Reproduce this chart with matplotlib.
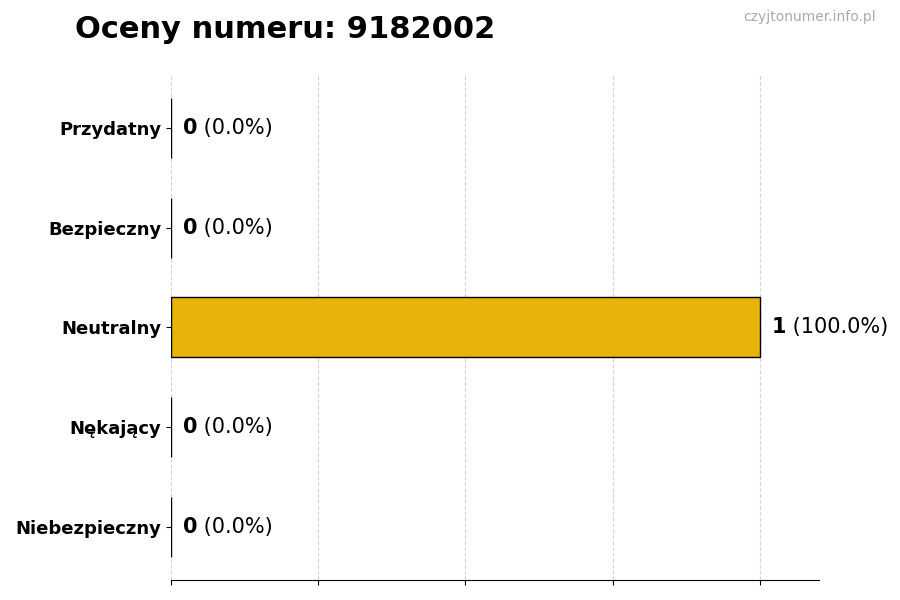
import numpy as np
import matplotlib
matplotlib.use("Agg")
import matplotlib.pyplot as plt

TITLE = "Oceny numeru: 9182002"
WATERMARK = "czyjtonumer.info.pl"
CATEGORIES = ["Przydatny", "Bezpieczny", "Neutralny", "Nękający", "Niebezpieczny"]
COUNTS = [0, 0, 1, 0, 0]
BAR_COLOR = "#e8b40b"


def main():
    total = sum(COUNTS)
    pcts = [100.0 * c / total if total else 0.0 for c in COUNTS]

    fig = plt.figure(figsize=(9, 6), dpi=100)
    ax = fig.add_axes([0.19, 0.0333, 0.7195, 0.842])

    # top category first -> reverse for barh
    ypos = np.arange(len(CATEGORIES))[::-1]
    ax.barh(ypos, COUNTS, height=0.6, color=BAR_COLOR, edgecolor="black",
            linewidth=1, zorder=3)

    ax.set_xlim(0, max(COUNTS) * 1.1)
    ax.set_xticks(np.linspace(0, max(COUNTS), 5))
    ax.set_xticklabels([])
    ax.set_yticks(ypos)
    ax.set_yticklabels(CATEGORIES, fontsize=13, fontweight="bold")
    ax.grid(axis="x", linestyle="--", color="#d5d5d5", linewidth=0.8, zorder=0)
    ax.grid(axis="y", visible=False)
    for side in ("top", "right", "left"):
        ax.spines[side].set_visible(False)

    for y, c, p in zip(ypos, COUNTS, pcts):
        t = ax.annotate(f"{c}", xy=(c, y), xytext=(8.5, 0), textcoords="offset points",
                        va="center", ha="left", fontsize=15, fontweight="bold")
        ax.annotate(f" ({p:.1f}%)", xy=(1, 0.5), xycoords=t, va="center", ha="left",
                    fontsize=15)

    fig.text(0.083, 0.95, TITLE, fontsize=22, fontweight="bold", va="center", ha="left")
    fig.text(0.973, 0.972, WATERMARK, fontsize=10, color="#aaaaaa", va="center", ha="right")

    fig.savefig("out.png", dpi=100)


if __name__ == "__main__":
    main()
